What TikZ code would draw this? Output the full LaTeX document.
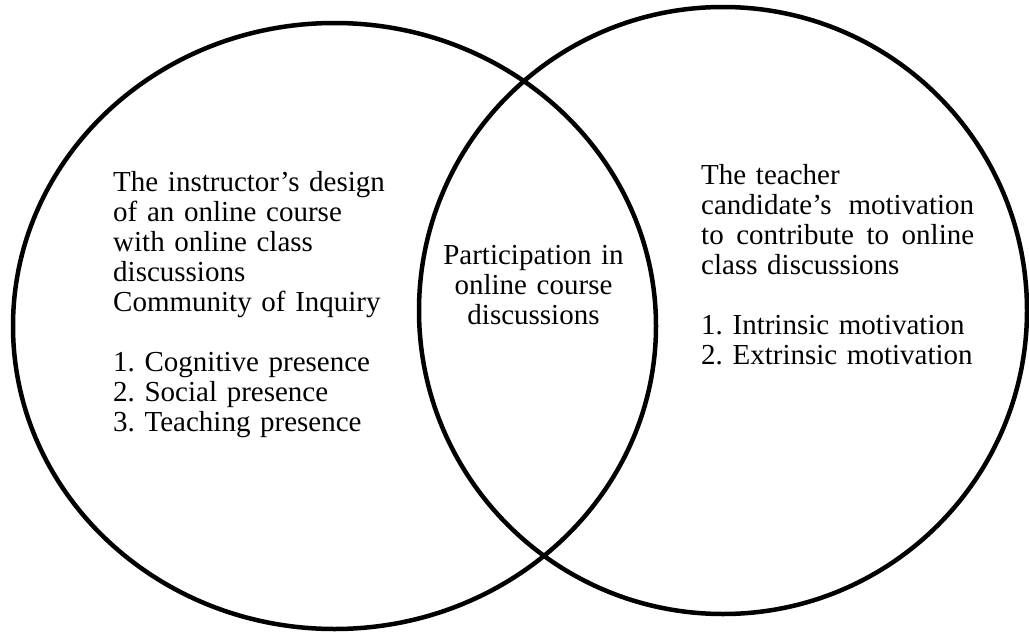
\documentclass[tikz,border=0pt]{standalone}
\usepackage{fontspec}
\setmainfont{Liberation Serif}
\usetikzlibrary{positioning}

\begin{document}
\begin{tikzpicture}[x=1pt, y=-1pt, line cap=round, line join=round,
  setline/.style={line width=4.5pt, black},
  settext/.style={font=\fontsize{29}{30}\selectfont, inner sep=0pt, align=left}]
  \useasboundingbox (0,0) rectangle (1029,632);
  \coordinate (Lc) at (334.5,326);
  \coordinate (Rc) at (723,310.5);

  % the two sets
  \draw[setline] (Lc) ellipse [x radius=321.5, y radius=303];
  \draw[setline] (Rc) ellipse [x radius=304, y radius=303.5];

  \node[settext, text width=285pt, anchor=base west] (design) at (113,191)
    {The instructor’s design\\of an online course\\with online class\\discussions\\Community of Inquiry\\[30pt]
     1.\ Cognitive presence\\2.\ Social presence\\3.\ Teaching presence};
  \node[settext, text width=200pt, align=center, anchor=base] (participation) at (533.5,264)
    {Participation in\\online course\\discussions};
  \node[settext, text width=276pt, anchor=base west] (motivation) at (701,184)
    {The teacher\\\leavevmode\hbox to 273pt{candidate’s\hfill motivation}\\
     \leavevmode\hbox to 273pt{to\hfill contribute\hfill to\hfill online}\\class discussions\\[30pt]
     1.\ Intrinsic motivation\\2.\ Extrinsic motivation};
\end{tikzpicture}
\end{document}
